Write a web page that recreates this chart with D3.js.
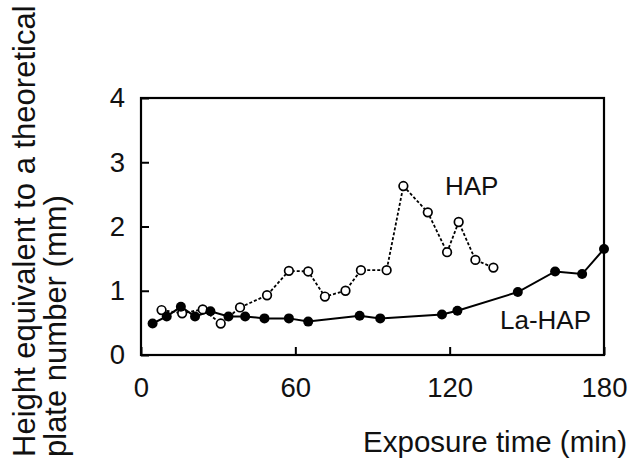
<!DOCTYPE html>
<html>
<head>
<meta charset="utf-8">
<script src="https://cdn.jsdelivr.net/npm/d3@7"></script>
<style>
    body { margin: 0; background: #fff; }
    svg { font-family: "Liberation Sans", Arial, Helvetica, sans-serif; }
</style>
</head>
<body>
<svg width="630" height="465"></svg>
<script>
// exposure time (min) and HETP (mm)
var hapTime = [8, 16, 24, 31, 38.5, 49, 57.5, 65, 71.5, 79.5, 85.5, 95.5, 102, 111.5, 119, 123.5, 130, 137];
var hapHeight = [0.70, 0.65, 0.71, 0.49, 0.74, 0.93, 1.31, 1.30, 0.91, 1.00, 1.32, 1.32, 2.63, 2.22, 1.60, 2.07, 1.48, 1.36];

var laTime = [4.5, 10, 15.5, 21, 27, 34, 40.5, 48, 57.5, 65, 85, 93, 117, 123, 146.5, 161, 171.5, 180];
var laHeight = [0.49, 0.60, 0.75, 0.60, 0.68, 0.60, 0.60, 0.57, 0.57, 0.52, 0.61, 0.57, 0.63, 0.69, 0.98, 1.30, 1.26, 1.65];

var xTicks = [0, 60, 120, 180];
var yTicks = [0, 1, 2, 3, 4];

window.onload = main;

function main() {
    var svg = d3.select("svg");

    var left = 141, right = 604, top = 98, bottom = 355;

    var x = d3.scaleLinear().domain([0, 180]).range([left, right]);
    var y = d3.scaleLinear().domain([0, 4]).range([bottom, top]);

    // frame
    svg.append("rect")
        .attr("x", left)
        .attr("y", top)
        .attr("width", right - left)
        .attr("height", bottom - top)
        .attr("fill", "none")
        .attr("stroke", "#000")
        .attr("stroke-width", 2.2);

    // x axis, ticks pointing inward
    var xAxis = d3.axisBottom(x).tickValues(xTicks).tickFormat(d3.format("d"))
        .tickSizeInner(-8).tickSizeOuter(0).tickPadding(22);
    var gx = svg.append("g")
        .attr("transform", "translate(0," + bottom + ")")
        .call(xAxis);
    gx.select(".domain").remove();
    gx.selectAll("line").attr("stroke-width", 2);
    gx.selectAll("text")
        .attr("font-size", 27.5)
        .attr("font-family", "Liberation Sans, Arial, sans-serif")
        .attr("fill", "#111");

    // y axis
    var yAxis = d3.axisLeft(y).tickValues(yTicks).tickFormat(d3.format("d"))
        .tickSizeInner(-8).tickSizeOuter(0).tickPadding(16);
    var gy = svg.append("g")
        .attr("transform", "translate(" + left + ",0)")
        .call(yAxis);
    gy.select(".domain").remove();
    gy.selectAll("line").attr("stroke-width", 2);
    gy.selectAll("text")
        .attr("font-size", 27.5)
        .attr("font-family", "Liberation Sans, Arial, sans-serif")
        .attr("fill", "#111");

    var line = d3.line()
        .x(function (d) { return x(d[0]); })
        .y(function (d) { return y(d[1]); });

    var hap = d3.zip(hapTime, hapHeight);
    var la = d3.zip(laTime, laHeight);

    // HAP dashed line with open circles
    svg.append("path")
        .datum(hap)
        .attr("d", line)
        .attr("fill", "none")
        .attr("stroke", "#000")
        .attr("stroke-width", 1.8)
        .attr("stroke-dasharray", "3,2");

    // La-HAP solid line with filled circles
    svg.append("path")
        .datum(la)
        .attr("d", line)
        .attr("fill", "none")
        .attr("stroke", "#000")
        .attr("stroke-width", 2);

    svg.selectAll("circle.hap")
        .data(hap)
        .enter()
        .append("circle")
        .attr("class", "hap")
        .attr("cx", function (d) { return x(d[0]); })
        .attr("cy", function (d) { return y(d[1]); })
        .attr("r", 4.3)
        .attr("fill", "#fff")
        .attr("stroke", "#000")
        .attr("stroke-width", 1.7);

    svg.selectAll("circle.la")
        .data(la)
        .enter()
        .append("circle")
        .attr("class", "la")
        .attr("cx", function (d) { return x(d[0]); })
        .attr("cy", function (d) { return y(d[1]); })
        .attr("r", 5)
        .attr("fill", "#000");

    // series labels
    svg.append("text")
        .attr("x", 445)
        .attr("y", 195)
        .attr("font-size", 26)
        .attr("fill", "#111")
        .text("HAP");

    svg.append("text")
        .attr("x", 500)
        .attr("y", 329)
        .attr("font-size", 26)
        .attr("fill", "#111")
        .text("La-HAP");

    // axis titles
    svg.append("text")
        .attr("x", 627)
        .attr("y", 452)
        .attr("text-anchor", "end")
        .attr("font-size", 29.5)
        .attr("fill", "#111")
        .text("Exposure time (min)");

    var yTitle = svg.append("g")
        .attr("transform", "translate(0,457) rotate(-90)");
    yTitle.append("text")
        .attr("x", 0)
        .attr("y", 35)
        .attr("font-size", 31)
        .attr("fill", "#111")
        .text("Height equivalent to a theoretical");
    yTitle.append("text")
        .attr("x", 0)
        .attr("y", 66)
        .attr("font-size", 31)
        .attr("fill", "#111")
        .text("plate number (mm)");
}
</script>
</body>
</html>
